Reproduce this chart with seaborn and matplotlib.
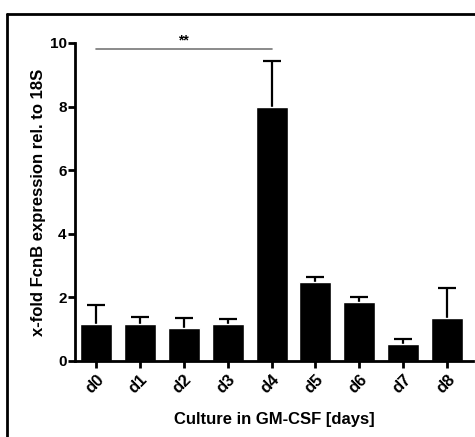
import matplotlib
matplotlib.use("Agg")
import matplotlib.pyplot as plt
import seaborn as sns
import numpy as np
import pandas as pd
from matplotlib.lines import Line2D

days = ["d0", "d1", "d2", "d3", "d4", "d5", "d6", "d7", "d8"]
means = [1.17, 1.15, 1.03, 1.15, 8.0, 2.5, 1.85, 0.53, 1.35]
upper = [1.75, 1.38, 1.35, 1.33, 9.42, 2.65, 2.02, 0.68, 2.3]
yticks = [0, 2, 4, 6, 8, 10]
sig_label = "**"
sig_pair = ("d0", "d4")
sig_y = 9.8

sns.set_style("ticks")
plt.rcParams['font.family'] = ['Liberation Sans', 'DejaVu Sans']
plt.rcParams['font.weight'] = 'bold'
plt.rcParams['text.color'] = 'black'
plt.rcParams['axes.labelcolor'] = 'black'
plt.rcParams['xtick.color'] = 'black'
plt.rcParams['ytick.color'] = 'black'
plt.rcParams['axes.edgecolor'] = 'black'

fig = plt.figure(figsize=(4.75, 4.37), dpi=100)
ax = fig.add_axes([75/475, 1-361/437, (473-75)/475, (361-43)/437])

df = pd.DataFrame({"day": days, "mean": means})
sns.barplot(data=df, x="day", y="mean", color="black", width=0.73,
            saturation=1, errorbar=None, ax=ax)
for p in ax.patches:
    p.set_zorder(3)
err = np.array(upper) - np.array(means)
eb = ax.errorbar(np.arange(len(days)), means, yerr=[np.zeros(len(days)), err],
                 fmt="none", ecolor="black", elinewidth=1.6, capsize=6.5,
                 capthick=1.6, zorder=2)
# keep only the upper caps
for cl in eb[1]:
    yd = np.asarray(cl.get_ydata())
    if np.allclose(yd, means):
        cl.remove()

ax.set_ylim(0, 10)
ax.set_xlim(-0.48, 8.59)
ax.set_yticks(yticks)
ax.set_yticklabels([str(t) for t in yticks], fontsize=11, fontweight='bold')
ax.set_xticks(np.arange(len(days)))
ax.set_xticklabels(days, rotation=45, ha="right", rotation_mode="anchor",
                   fontsize=12, fontweight='bold')
for s in ["top", "right"]:
    ax.spines[s].set_visible(False)
for s in ["left", "bottom"]:
    ax.spines[s].set_linewidth(2)
    ax.spines[s].set_zorder(4)
ax.tick_params(axis="both", width=2, length=5, direction="out", pad=3)
ax.tick_params(axis="y", pad=1)

ax.set_xlabel("Culture in GM-CSF [days]", fontsize=12, fontweight='bold', labelpad=11)
ax.set_ylabel("x-fold FcnB expression rel. to 18S", fontsize=12, fontweight='bold', labelpad=3)

i0, i1 = days.index(sig_pair[0]), days.index(sig_pair[1])
ax.plot([i0, i1], [sig_y, sig_y], color="#777777", lw=1.2, clip_on=False)
ax.text((i0 + i1) / 2, sig_y + 0.07, sig_label, ha="center", va="bottom",
        fontsize=10, fontweight='bold')

# outer frame (left and top edges visible)
fig.add_artist(Line2D([7/475, 7/475], [0, 1-14/437], color="black", lw=2,
                      transform=fig.transFigure))
fig.add_artist(Line2D([7/475, 1], [1-14/437, 1-14/437], color="black", lw=2,
                      transform=fig.transFigure))

fig.savefig("out.png", dpi=100)
